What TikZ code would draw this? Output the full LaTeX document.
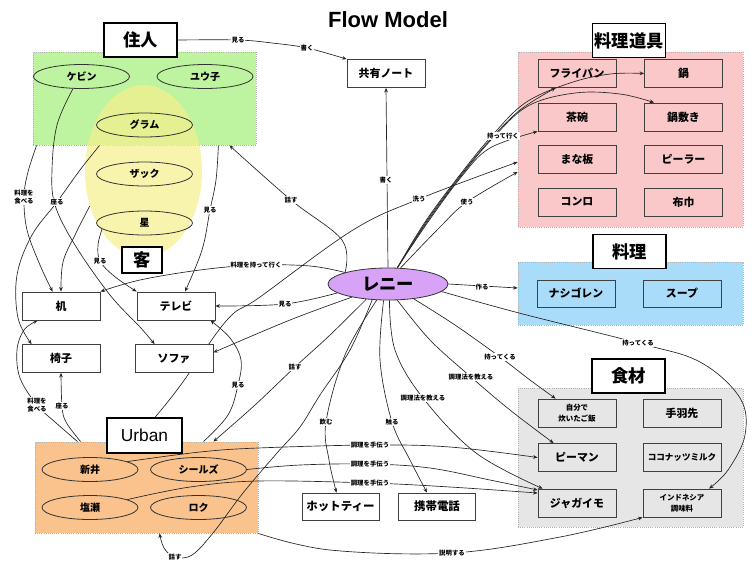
\documentclass[tikz,border=0pt]{standalone}
\usepackage{fontspec}
\setmainfont{Liberation Sans}
\newfontfamily\jp{Noto Sans CJK JP}
\usetikzlibrary{shapes.geometric,arrows.meta,calc}
\pgfdeclarelayer{bg}
\pgfdeclarelayer{edges}
\pgfsetlayers{bg,edges,main}

\definecolor{grpgreen}{RGB}{190,243,160}
\definecolor{grpyellow}{RGB}{245,240,140}
\definecolor{grporange}{RGB}{250,195,142}
\definecolor{grppink}{RGB}{250,200,200}
\definecolor{grpblue}{RGB}{168,220,248}
\definecolor{grpgray}{RGB}{230,230,230}
\definecolor{renipurple}{RGB}{216,162,246}

\begin{document}
\begin{tikzpicture}[x=0.75pt,y=-0.75pt,
  hdr/.style={draw=black, line width=1.1pt, fill=white, minimum width=54.75pt,
    minimum height=25.5pt, inner sep=1pt, font=\jp\bfseries\fontsize{13}{14}\selectfont},
  box/.style={draw=black!75, line width=0.6pt, fill=white, minimum width=58.5pt,
    minimum height=21pt, inner sep=1pt, align=center,
    font=\jp\bfseries\fontsize{8.2}{9}\selectfont},
  small/.style={font=\jp\bfseries\fontsize{5.6}{8}\selectfont},
  ell/.style={ellipse, draw=black!80, line width=0.6pt, minimum width=72pt,
    minimum height=18pt, inner sep=0pt, font=\jp\bfseries\fontsize{7.5}{8}\selectfont},
  grp/.style={draw=black!30, densely dotted, line width=0.6pt, inner sep=0pt},
  lbl/.style={fill=white, inner sep=0.6pt, align=center,
    font=\jp\bfseries\fontsize{4.8}{5.8}\selectfont},
  arr/.style={line width=0.5pt, draw=black!85, -{Stealth[length=3.4pt,width=2.8pt]}},
  ln/.style={line width=0.5pt, draw=black!85},
  sm/.style={smooth, tension=0.6}
]
\useasboundingbox (0,0) rectangle (752,561);

% ---------- group areas ----------
\begin{pgfonlayer}{bg}
  \node[grp, fill=grpgreen, minimum width=167.25pt, minimum height=69.75pt] (gJ) at (144.5,98.5) {};
  \node[ellipse, fill=grpyellow, fill opacity=0.7, minimum width=87.75pt, minimum height=129pt, inner sep=0pt] (gK) at (143.5,171) {};
  \node[grp, fill=grporange, minimum width=167.25pt, minimum height=68.25pt] (gU) at (146.5,487.5) {};
  \node[grp, fill=grppink, minimum width=168.75pt, minimum height=131.25pt] (gT) at (630.5,139.5) {};
  \node[grp, fill=grpblue, minimum width=168.75pt, minimum height=47.25pt] (gR) at (630.5,293.5) {};
  \node[grp, fill=grpgray, minimum width=168.75pt, minimum height=104.25pt] (gF) at (630.5,457.5) {};
\end{pgfonlayer}

% ---------- title ----------
\node[font=\bfseries\fontsize{16.5}{18}\selectfont] (title) at (388,20) {Flow Model};

% ---------- residents / guests ----------
\node[hdr] (hJ) at (140.5,40) {住人};
\node[ell] (kevin) at (81.5,76.5) {ケビン};
\node[ell] (yuko) at (205,76.5) {ユウ子};
\node[ell] (guram) at (144.5,125) {グラム};
\node[ell] (zack) at (144.5,174) {ザック};
\node[ell] (hoshi) at (144.5,223) {星};
\node[hdr, minimum width=30pt, minimum height=19.5pt] (hK) at (142,260) {客};

% ---------- furniture ----------
\node[box] (desk) at (61,306) {机};
\node[box] (tv) at (176,306) {テレビ};
\node[box] (chair) at (61,358.5) {椅子};
\node[box] (sofa) at (174,358.5) {ソファ};

% ---------- Urban ----------
\node[hdr, font=\fontsize{13}{14}\selectfont, minimum width=56.25pt, minimum height=26.25pt] (hU) at (144.5,435.5) {Urban};
\node[ell] (arai) at (90,469.5) {新井};
\node[ell] (seals) at (198.5,469.5) {シールズ};
\node[ell] (shiose) at (90,507.5) {塩瀬};
\node[ell] (roku) at (198.5,507.5) {ロク};

% ---------- centre ----------
\node[box] (note) at (386,73.5) {共有ノート};
\node[ellipse, draw=black!80, line width=0.6pt, fill=renipurple, minimum width=90pt,
  minimum height=24pt, inner sep=0pt, font=\jp\bfseries\fontsize{13}{14}\selectfont] (reni) at (388,284) {レニー};
\node[box, minimum width=57.75pt, minimum height=20.25pt, font=\jp\bfseries\fontsize{8.6}{9}\selectfont] (tea) at (340.5,506.5) {ホットティー};
\node[box, minimum width=57.75pt, minimum height=20.25pt, font=\jp\bfseries\fontsize{8.6}{9}\selectfont] (phone) at (437,506.5) {携帯電話};

% ---------- cooking tools ----------
\node[hdr] (hT) at (629,40.5) {料理道具};
\node[box, fill=grppink] (frypan) at (577,73.5) {フライパン};
\node[box, fill=grppink] (nabe) at (683.5,73.5) {鍋};
\node[box, fill=grppink] (chawan) at (577,117) {茶碗};
\node[box, fill=grppink] (nabeshiki) at (683.5,117) {鍋敷き};
\node[box, fill=grppink] (manaita) at (577,159.5) {まな板};
\node[box, fill=grppink] (peeler) at (683.5,159.5) {ピーラー};
\node[box, fill=grppink] (konro) at (577,202) {コンロ};
\node[box, fill=grppink] (fukin) at (683.5,202) {布巾};

% ---------- dishes ----------
\node[hdr] (hR) at (629.5,251.5) {料理};
\node[box, fill=grpblue, minimum height=20.25pt] (nasi) at (576,293.5) {ナシゴレン};
\node[box, fill=grpblue, minimum height=20.25pt] (soup) at (682,293.5) {スープ};

% ---------- ingredients ----------
\node[hdr] (hF) at (628.5,376) {食材};
\node[box, fill=grpgray, small] (rice) at (577,413) {自分で\\炊いたご飯};
\node[box, fill=grpgray] (teba) at (682,413) {手羽先};
\node[box, fill=grpgray] (pman) at (577,457.5) {ピーマン};
\node[box, fill=grpgray, font=\jp\bfseries\fontsize{6.4}{8}\selectfont] (coco) at (682,457.5) {ココナッツミルク};
\node[box, fill=grpgray] (potato) at (577,503) {ジャガイモ};
\node[box, fill=grpgray, small] (indo) at (682,503) {インドネシア\\調味料};

% ---------- connector end points on group borders ----------
\coordinate (jTalk) at ($(gJ.south east)+(-27,0)$);
\coordinate (jSee) at ($(gJ.south east)+(-38,0)$);
\coordinate (jEat) at ($(gJ.south west)+(4,0)$);
\coordinate (jSit) at ($(gJ.south west)+(67,0)$);
\coordinate (uTalk) at ($(gU.north east)+(-45,0)$);
\coordinate (uSee) at ($(gU.north east)+(-55,0)$);
\coordinate (uEat) at ($(gU.north west)+(43,0)$);
\coordinate (uSit) at ($(gU.north west)+(46,0)$);
\coordinate (uBot) at ($(gU.south west)+(125,0)$);
\coordinate (tWash) at ($(gT.west)+(0,22.5)$);
\coordinate (tUse) at ($(gT.west)+(0,32.5)$);
\coordinate (rMake) at ($(gR.west)+(0,-5.5)$);

% ---------- connectors ----------
\begin{pgfonlayer}{edges}
  % residents and the shared note
  \draw[arr] plot[sm] coordinates {(hJ.east) (238,40) (272,43) (307,48) (note.north west)};
  \draw[arr] (reni.north) -- (note.south);
  \draw[arr] plot[sm] coordinates {(reni.165) (342,240) (291,200) (jTalk)};
  % left side: residents / guests to furniture
  \draw[arr] plot[sm] coordinates {(jEat) (28,172) (24,197) (27,230) (40,265) ($(desk.north west)+(31,0)$)};
  \draw[arr] plot[sm] coordinates {(jSit) (80,170) (57,202) (32,235) (17,275) (18,318) ($(chair.north west)+(10,0)$)};
  \draw[arr] plot[sm] coordinates {(kevin.235) (57,125) (52,170) (55,205) (75,245) (110,295) (140,327) ($(sofa.north west)+(20,0)$)};
  \draw[arr] plot[sm] coordinates {(gK.213) (75,235) (63,262) (desk.north)};
  \draw[arr] plot[sm] coordinates {(hoshi.188) (98,245) (100,261) (114,276) (tv.north west)};
  \draw[arr] plot[sm] coordinates {(jSee) (216,180) (210,210) (202,250) ($(tv.north)+(9,0)$)};
  % Urban to furniture
  \draw[arr] plot[sm] coordinates {(uEat) (55,422) (37,405) (20,378) (17,350) (24,330) ($(desk.south west)+(16,0)$)};
  \draw[arr] plot[sm] coordinates {(uSit) (66,422) (62,406) (chair.south)};
  \draw[arr] plot[sm] coordinates {(uSee) (228,415) (238,385) (241,360) (230,338) ($(tv.south east)+(-5,0)$)};
  \draw[arr] plot[sm] coordinates {(hU.60) (180,386) (227,320) (260,297) (353,230) (419,199) (tWash)};
  % Lenny to the left
  \draw[arr] plot[sm] coordinates {(reni.165) (310,266) (256,265) (200,270) (140,280) (desk.north east)};
  \draw[arr] plot[sm] coordinates {(reni.190) (285,304) (tv.east)};
  \draw[arr] plot[sm] coordinates {(reni.200) (290,320) ($(sofa.east)+(0,-6)$)};
  \draw[arr] plot[sm] coordinates {(reni.215) (330,335) (295,367) (255,405) (uTalk)};
  \draw[arr] plot[sm] coordinates {(reni.225) (350,350) (320,395) (300,427) (277,453) (243,493) (213,533) (192,555) (175,557) (164,548) (uBot)};
  % Lenny downwards
  \draw[arr] plot[sm] coordinates {(reni.235) (345,355) (326,422) (329,460) ($(tea.north)+(-4,0)$)};
  \draw[arr] plot[sm] coordinates {(reni.255) (380,360) (392,422) (410,460) ($(phone.north)+(-10,0)$)};
  \draw[arr] plot[sm] coordinates {(reni.275) (395,350) (423,398) (476,453) ($(potato.north west)+(5,0)$)};
  \draw[arr] plot[sm] coordinates {(reni.300) (430,340) (471,377) (510,410) ($(pman.north west)+(16,0)$)};
  \draw[arr] plot[sm] coordinates {(reni.330) (455,325) (500,357) (530,380) ($(rice.north west)+(18,0)$)};
  \draw[arr] plot[sm] coordinates {(reni.352) (519,313) (638,343) (700,362) (740,398) (745,435) (728,470) ($(indo.north)+(27,0)$)};
  \draw[arr] (reni.east) -- (rMake);
  % Lenny to the cooking tools
  \draw[arr] plot[sm] coordinates {(reni.52) (440,227) (467,202) (tUse)};
  \draw[arr] plot[sm] coordinates {(reni.60) (428,222) (462,176) (490,148) (chawan.south west)};
  \draw[arr] plot[sm] coordinates {(reni.60) (426,222) (460,176) (490,140) (520,110) ($(frypan.south west)+(18,0)$)};
  % Urban helping to cook
  \draw[arr] plot[sm] coordinates {(arai.12) (200,452) (258,448) (370,445) (450,447) (pman.west)};
  \draw[arr] plot[sm] coordinates {(seals.east) (300,465) (370,464) (430,468) (490,480) ($(potato.west)+(0,-13)$)};
  \draw[arr] plot[sm] coordinates {(shiose.12) (190,487) (258,481) (370,483) (450,487) ($(potato.west)+(0,-10)$)};
  % explaining the seasoning
  \draw[arr] plot[sm] coordinates {(gU.south east) (330,550) (452,553) (560,537) (indo.south west)};
\end{pgfonlayer}

% these two run across the frying-pan box, so they stay above it
\draw[arr] plot[sm] coordinates {(reni.60) (425,222) (459,176) (490,138) (525,103) (570,83) (610,74) (nabe.west)};
\draw[arr] plot[sm] coordinates {(reni.60) (427,222) (461,176) (492,139) (528,106) (575,93) (620,94) ($(nabeshiki.north west)+(10,0)$)};

% ---------- connector labels ----------
\node[lbl] (l1) at (238,40) {見る};
\node[lbl] (l2) at (307,48) {書く};
\node[lbl] (l3) at (386,180) {書く};
\node[lbl] (l4) at (291,200) {話す};
\node[lbl] (l5) at (24,197) {料理を\\食べる};
\node[lbl] (l6) at (57,202) {座る};
\node[lbl] (l7) at (100,261) {見る};
\node[lbl] (l8) at (210,210) {見る};
\node[lbl] (l9) at (256,265) {料理を持って行く};
\node[lbl] (l10) at (285,304) {見る};
\node[lbl] (l11) at (295,367) {話す};
\node[lbl] (l12) at (238,385) {見る};
\node[lbl] (l13) at (37,405) {料理を\\食べる};
\node[lbl] (l14) at (62,406) {座る};
\node[lbl] (l15) at (326,422) {飲む};
\node[lbl] (l16) at (392,422) {触る};
\node[lbl] (l17) at (423,398) {調理法を教える};
\node[lbl] (l18) at (471,377) {調理法を教える};
\node[lbl] (l19) at (500,357) {持ってくる};
\node[lbl] (l20) at (638,343) {持ってくる};
\node[lbl] (l21) at (482,287) {作る};
\node[lbl] (l22) at (370,445) {調理を手伝う};
\node[lbl] (l23) at (370,464) {調理を手伝う};
\node[lbl] (l24) at (370,483) {調理を手伝う};
\node[lbl] (l25) at (175,557) {話す};
\node[lbl] (l26) at (452,553) {説明する};
\node[lbl] (l27) at (503,136) {持って行く};
\node[lbl] (l28) at (419,199) {洗う};
\node[lbl] (l29) at (467,202) {使う};
\end{tikzpicture}
\end{document}
